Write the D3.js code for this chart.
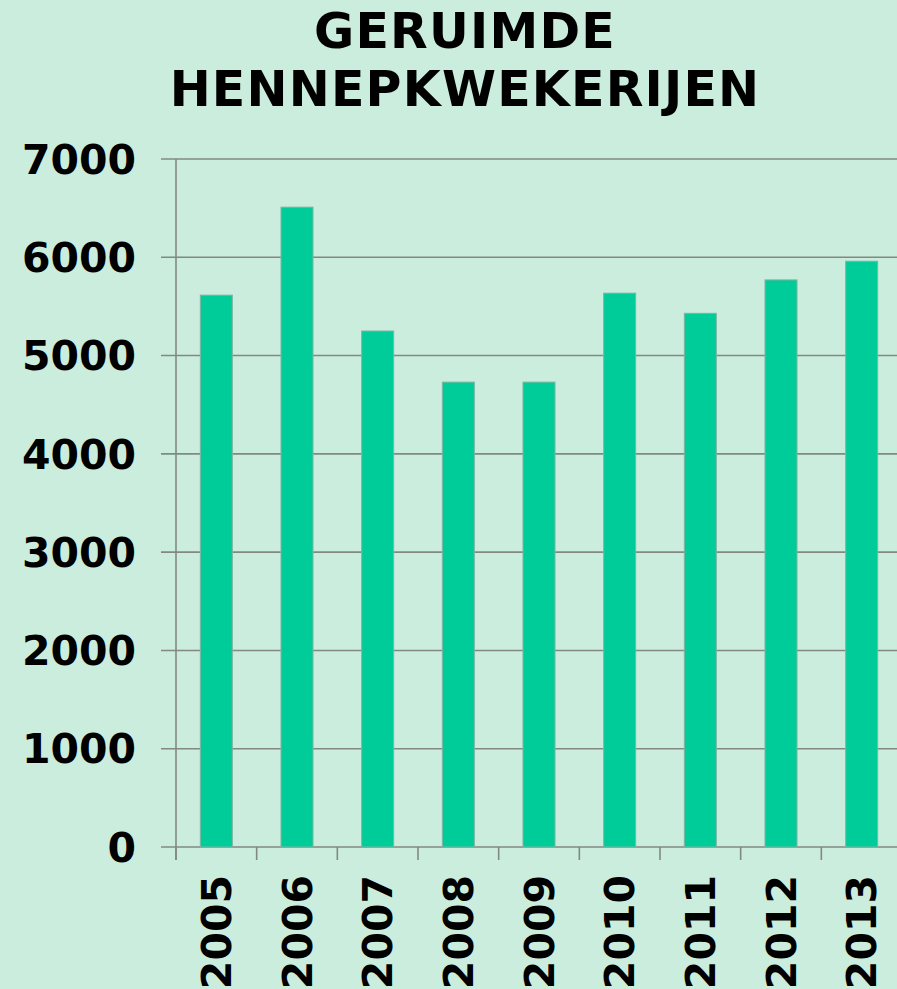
<!DOCTYPE html>
<html>
<head>
<meta charset="utf-8">
<script src="https://cdn.jsdelivr.net/npm/d3@7"></script>
<style>
  html, body { margin: 0; padding: 0; background: #cbeddd; overflow: hidden; }
  svg { display: block; }
</style>
</head>
<body>
<script>
// data
var titleLines = ["GERUIMDE", "HENNEPKWEKERIJEN"];
var years = ["2005", "2006", "2007", "2008", "2009", "2010", "2011", "2012", "2013"];
var counts = [5615, 6510, 5250, 4730, 4730, 5635, 5430, 5770, 5960];
var yTicks = [0, 1000, 2000, 3000, 4000, 5000, 6000, 7000];

var w = 897, h = 989;
var font = "'DejaVu Sans', Verdana, sans-serif";

var svg = d3.select("body")
    .append("svg")
    .attr("width", w)
    .attr("height", h);

svg.append("rect")
    .attr("width", w)
    .attr("height", h)
    .attr("fill", "#cbeddd");

// title
svg.selectAll("text.title")
    .data(titleLines)
    .enter()
    .append("text")
    .attr("class", "title")
    .attr("x", 465)
    .attr("y", function (d, i) { return 48 + i * 58 })
    .attr("text-anchor", "middle")
    .style("font-family", font)
    .style("font-weight", "bold")
    .style("font-size", "49px")
    .style("letter-spacing", "1.2px")
    .attr("fill", "#000")
    .text(function (d) { return d });

var x = d3.scaleBand()
    .domain(years)
    .range([176, 902])
    .paddingInner(0.603)
    .paddingOuter(0.3015);

var y = d3.scaleLinear()
    .domain([0, 7000])
    .range([847, 159]);

// gridlines + y ticks
svg.selectAll("line.grid")
    .data(yTicks)
    .enter()
    .append("line")
    .attr("class", "grid")
    .attr("x1", 161)
    .attr("x2", w)
    .attr("y1", function (d) { return y(d) })
    .attr("y2", function (d) { return y(d) })
    .attr("stroke", "#838883")
    .attr("stroke-width", 1.6);

// y axis labels
svg.selectAll("text.ylab")
    .data(yTicks)
    .enter()
    .append("text")
    .attr("class", "ylab")
    .attr("x", 136)
    .attr("y", function (d) { return y(d) })
    .attr("dy", "0.36em")
    .attr("text-anchor", "end")
    .style("font-family", font)
    .style("font-weight", "bold")
    .style("font-size", "41px")
    .attr("fill", "#000")
    .text(function (d) { return d });

// bars
svg.selectAll("rect.bar")
    .data(counts)
    .enter()
    .append("rect")
    .attr("class", "bar")
    .attr("x", function (d, i) { return x(years[i]) })
    .attr("y", function (d) { return y(d) })
    .attr("width", x.bandwidth())
    .attr("height", function (d) { return y(0) - y(d) })
    .attr("fill", "#00cc99")
    .attr("stroke", "#7fb5a2")
    .attr("stroke-width", 1);

// y axis line
svg.append("line")
    .attr("x1", 176).attr("x2", 176)
    .attr("y1", y(7000)).attr("y2", 860)
    .attr("stroke", "#838883")
    .attr("stroke-width", 1.6);

// x axis ticks at category boundaries
var bounds = d3.range(years.length + 1).map(function (i) { return 176 + i * x.step() });
svg.selectAll("line.xtick")
    .data(bounds)
    .enter()
    .append("line")
    .attr("class", "xtick")
    .attr("x1", function (d) { return d })
    .attr("x2", function (d) { return d })
    .attr("y1", y(0))
    .attr("y2", 860)
    .attr("stroke", "#838883")
    .attr("stroke-width", 1.6);

// x labels, rotated
svg.selectAll("text.xlab")
    .data(years)
    .enter()
    .append("text")
    .attr("class", "xlab")
    .attr("transform", function (d) {
        return "translate(" + (x(d) + x.bandwidth() / 2) + ",875) rotate(-90)";
    })
    .attr("dy", "0.36em")
    .attr("text-anchor", "end")
    .style("font-family", font)
    .style("font-weight", "bold")
    .style("font-size", "41px")
    .attr("fill", "#000")
    .text(function (d) { return d });
</script>
</body>
</html>
